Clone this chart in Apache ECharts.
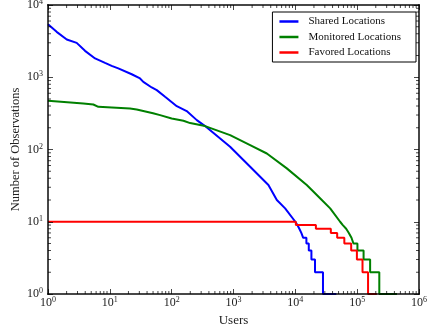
<!DOCTYPE html>
<html><head><meta charset="utf-8">
<script src="https://cdn.jsdelivr.net/npm/echarts@6/dist/echarts.min.js"></script>
<style>html,body{margin:0;padding:0;background:#fff}#c{width:427px;height:333px}</style>
</head><body><div id="c"></div>
<script>
const seriesNames = ['Shared Locations', 'Monitored Locations', 'Favored Locations'];
const seriesColors = ['#0000ff', '#008000', '#ff0000'];
const xRange = [1, 1e6];
const yRange = [1, 1e4];
const xTitle = 'Users';
const yTitle = 'Number of Observations';

const sharedLocations = [
  [1,5420],[1.38,4250],[2.01,3335],[2.91,2990],[3.97,2320],[5.77,1820],[8.36,1580],[10.7,1440],
  [13.7,1325],[14.6,1250],[22.6,1100],[30.8,962],[34.8,863],[47.6,722],[57.4,663],[78.2,536],
  [121,398],[175,340],[255,255],[347,211],[881,109],[1860,57.7],[3670,32.2],[5020,20],[6840,15.3],
  [10000,10],[10800,9],[11600,8],[12500,7],[13400,6],[15100,6],[15100,5],[16500,5],[16500,4],
  [18200,4],[18200,3],[20800,3],[20800,2],[28000,2],[28000,1],[46000,1]
];
const monitoredLocations = [
  [1,472],[3.73,434],[5.41,420],[6.52,390],[21.2,370],[27.2,358],[50,318],[65,299],[100,268],
  [155,250],[199,232],[347,211],[881,158],[1857,115],[3460,88],[7280,54.8],[15300,32.2],
  [26800,20],[36600,15.3],[53000,10],[58600,9],[66400,8],[73300,7],[80900,6],[87100,5],
  [101000,5],[101000,4],[127000,4],[127000,3],[162000,3],[162000,2],[228000,2],[228000,1],[440000,1]
];
const favoredLocations = [
  [1,10],[10200,10],[10200,9],[21500,9],[21500,8],[37500,8],[37500,7],[47500,7],[47500,6],
  [62000,6],[62000,5],[80000,5],[80000,4],[99000,4],[99000,3],[122000,3],[122000,2],
  [150000,2],[150000,1],[208000,1]
];

const FONT = 'Liberation Serif';
const AXIS_COLOR = 'rgba(0,0,0,0.72)';

function minorValues(range) {
  const out = [];
  for (let d = range[0]; d < range[1]; d *= 10) {
    for (let k = 2; k <= 9; k++) out.push(d * k);
  }
  return out;
}
const xMinor = minorValues(xRange);
const yMinor = minorValues(yRange);

const labelFmt = v => '{b|10}{s|' + Math.round(Math.log10(v)) + '}';
const rich = {
  b: {fontFamily: FONT, fontSize: 12, color: '#222', lineHeight: 14},
  s: {fontFamily: FONT, fontSize: 8, color: '#222', verticalAlign: 'top', lineHeight: 9}
};

function axisBase(extra) {
  return Object.assign({
    type: 'log', logBase: 10, gridIndex: 0, z: 5,
    axisLine: {show: true, lineStyle: {color: AXIS_COLOR, width: 2}},
    axisTick: {show: true, inside: true, length: 5, lineStyle: {color: AXIS_COLOR, width: 1}},
    splitLine: {show: false},
    minorTick: {show: false}
  }, extra);
}

const chart = echarts.init(document.getElementById('c'), null, {renderer: 'canvas'});

const tickLine = (x1, y1, x2, y2) => ({type: 'line', shape: {x1, y1, x2, y2}, style: {stroke: AXIS_COLOR, lineWidth: 1}});

chart.setOption({
  animation: false,
  backgroundColor: '#fff',
  grid: {left: 48, right: 8, top: 5, bottom: 39, outerBoundsMode: 'none', containLabel: false},
  xAxis: [
    axisBase({position: 'bottom', min: xRange[0], max: xRange[1],
      name: xTitle, nameLocation: 'middle', nameGap: 20, nameMoveOverlap: false,
      nameTextStyle: {fontFamily: FONT, fontSize: 13, color: '#222'},
      axisLabel: {formatter: labelFmt, rich, margin: 2}}),
    axisBase({position: 'top', min: xRange[0], max: xRange[1], axisLabel: {show: false}})
  ],
  yAxis: [
    axisBase({position: 'left', min: yRange[0], max: yRange[1],
      name: yTitle, nameLocation: 'middle', nameGap: 26, nameRotate: 90, nameMoveOverlap: false,
      nameTextStyle: {fontFamily: FONT, fontSize: 12.5, color: '#222'},
      axisLabel: {formatter: labelFmt, rich, margin: 5}}),
    axisBase({position: 'right', min: yRange[0], max: yRange[1], axisLabel: {show: false}})
  ],
  legend: {
    data: seriesNames.map(n => ({name: n, icon: 'rect'})),
    orient: 'vertical', right: 11, top: 12,
    backgroundColor: '#fff', borderColor: '#000', borderWidth: 1, borderRadius: 0,
    padding: [4, 15, 4, 7], itemGap: 4.5, itemWidth: 19, itemHeight: 2.5,
    textStyle: {fontFamily: FONT, fontSize: 11, color: '#111', padding: [0, 0, 0, 5], lineHeight: 11}
  },
  series: [
    {name: seriesNames[0], type: 'line', data: sharedLocations, symbol: 'none', color: seriesColors[0], lineStyle: {width: 2}, z: 2},
    {name: seriesNames[1], type: 'line', data: monitoredLocations, symbol: 'none', color: seriesColors[1], lineStyle: {width: 2}, z: 2},
    {name: seriesNames[2], type: 'line', data: favoredLocations, symbol: 'none', color: seriesColors[2], lineStyle: {width: 2}, z: 2},
    {type: 'custom', name: 'xMinor', silent: true, clip: false, z: 6,
      data: xMinor.map(v => [v, yRange[0]]), encode: {x: 0, y: 1},
      renderItem(params, api) {
        const v = api.value(0);
        const b = api.coord([v, yRange[0]]), t = api.coord([v, yRange[1]]);
        return {type: 'group', children: [tickLine(b[0], b[1], b[0], b[1] - 3), tickLine(t[0], t[1], t[0], t[1] + 3)]};
      }},
    {type: 'custom', name: 'yMinor', silent: true, clip: false, z: 6,
      data: yMinor.map(v => [xRange[0], v]), encode: {x: 0, y: 1},
      renderItem(params, api) {
        const v = api.value(1);
        const l = api.coord([xRange[0], v]), r = api.coord([xRange[1], v]);
        return {type: 'group', children: [tickLine(l[0], l[1], l[0] + 3, l[1]), tickLine(r[0], r[1], r[0] - 3, r[1])]};
      }}
  ]
});
</script>
</body></html>
